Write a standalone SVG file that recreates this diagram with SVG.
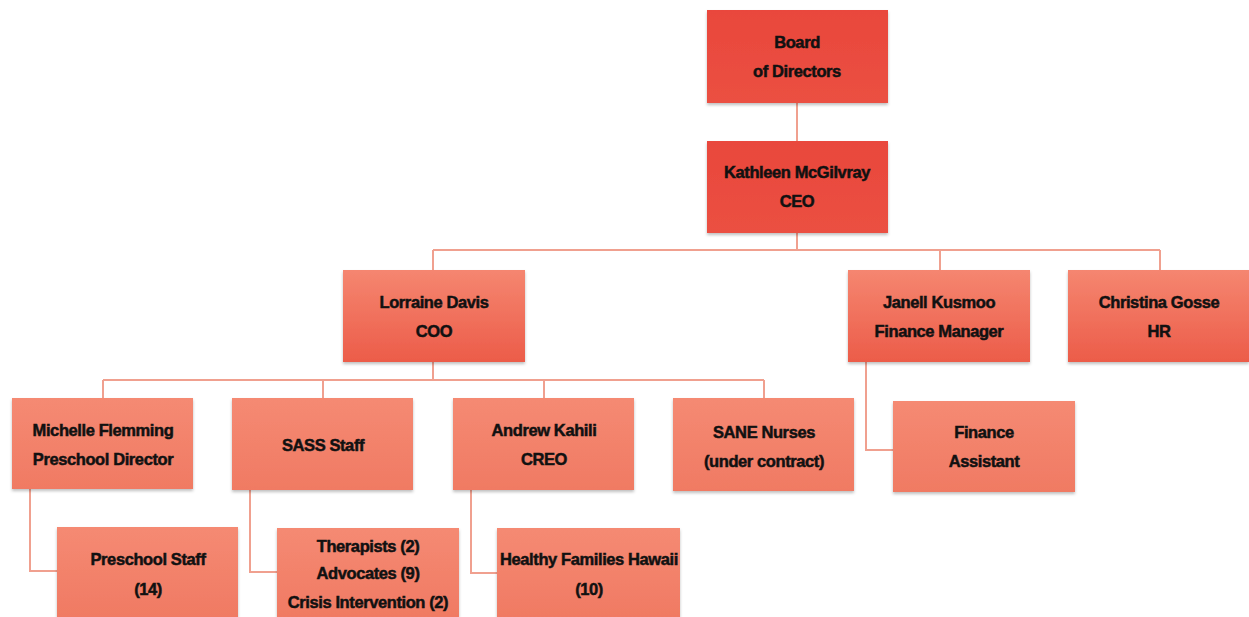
<svg xmlns="http://www.w3.org/2000/svg" width="1249" height="617" viewBox="0 0 1249 617">
<defs>
<linearGradient id="gTop" x1="0" y1="0" x2="0" y2="1">
<stop offset="0" stop-color="#e9473c"/><stop offset="1" stop-color="#eb5042"/>
</linearGradient>
<linearGradient id="gMid" x1="0" y1="0" x2="0" y2="1">
<stop offset="0" stop-color="#f58670"/><stop offset="1" stop-color="#ec5c49"/>
</linearGradient>
<linearGradient id="gLow" x1="0" y1="0" x2="0" y2="1">
<stop offset="0" stop-color="#f58a73"/><stop offset="1" stop-color="#f07a63"/>
</linearGradient>
<filter id="sh" x="-5%" y="-5%" width="110%" height="120%">
<feDropShadow dx="0" dy="2" stdDeviation="1.5" flood-color="#000" flood-opacity="0.25"/>
</filter>
</defs>
<style>
text{font-family:"Liberation Sans",Arial,sans-serif;font-weight:bold;font-size:16.5px;fill:#111;stroke:#111;stroke-width:0.5px;text-anchor:middle;letter-spacing:-0.4px}
.top{fill:url(#gTop);filter:url(#sh)}
.mid{fill:url(#gMid);filter:url(#sh)}
.low{fill:url(#gLow);filter:url(#sh)}
.c{fill:none;stroke:#f0a08f;stroke-width:2}
</style>
<rect width="1249" height="617" fill="#ffffff"/>
<g id="connectors">
<path class="c" d="M797 103V141"/>
<path class="c" d="M797 233V250M433 250H1160M433 250V270M940 250V270M1160 250V270"/>
<path class="c" d="M433 362V380M103 380H764M103 380V398M323 380V398M544 380V398M764 380V398"/>
<path class="c" d="M866 362V450H893"/>
<path class="c" d="M30 489V571H57"/>
<path class="c" d="M250 490V572H277"/>
<path class="c" d="M471 490V573H497"/>
</g>
<g id="board"><rect class="top" x="707" y="10" width="181" height="93"/><text x="797" y="48">Board</text><text x="797" y="77">of Directors</text></g>
<g id="ceo"><rect class="top" x="707" y="141" width="181" height="92"/><text x="797" y="178">Kathleen McGilvray</text><text x="797" y="207">CEO</text></g>
<g id="coo"><rect class="mid" x="343" y="270" width="182" height="92"/><text x="434" y="308">Lorraine Davis</text><text x="434" y="337">COO</text></g>
<g id="finance-manager"><rect class="mid" x="848" y="270" width="182" height="92"/><text x="939" y="308">Janell Kusmoo</text><text x="939" y="337">Finance Manager</text></g>
<g id="hr"><rect class="mid" x="1068" y="270" width="181" height="92"/><text x="1159" y="308">Christina Gosse</text><text x="1159" y="337">HR</text></g>
<g id="preschool-director"><rect class="low" x="12" y="398" width="181" height="91"/><text x="103" y="436">Michelle Flemming</text><text x="103" y="465">Preschool Director</text></g>
<g id="sass"><rect class="low" x="232" y="398" width="181" height="92"/><text x="323" y="451">SASS Staff</text></g>
<g id="creo"><rect class="low" x="453" y="398" width="181" height="92"/><text x="544" y="436">Andrew Kahili</text><text x="544" y="465">CREO</text></g>
<g id="sane"><rect class="low" x="673" y="398" width="181" height="93"/><text x="764" y="438">SANE Nurses</text><text x="764" y="467">(under contract)</text></g>
<g id="finance-assistant"><rect class="low" x="893" y="401" width="182" height="91"/><text x="984" y="438">Finance</text><text x="984" y="467">Assistant</text></g>
<g id="preschool-staff"><rect class="low" x="57" y="527" width="181" height="90"/><text x="148" y="565">Preschool Staff</text><text x="148" y="595">(14)</text></g>
<g id="sass-staff"><rect class="low" x="277" y="528" width="182" height="89"/><text x="368" y="552">Therapists (2)</text><text x="368" y="579">Advocates (9)</text><text x="368" y="608">Crisis Intervention (2)</text></g>
<g id="healthy-families"><rect class="low" x="497" y="528" width="183" height="89"/><text x="589" y="565">Healthy Families Hawaii</text><text x="589" y="595">(10)</text></g>
</svg>
